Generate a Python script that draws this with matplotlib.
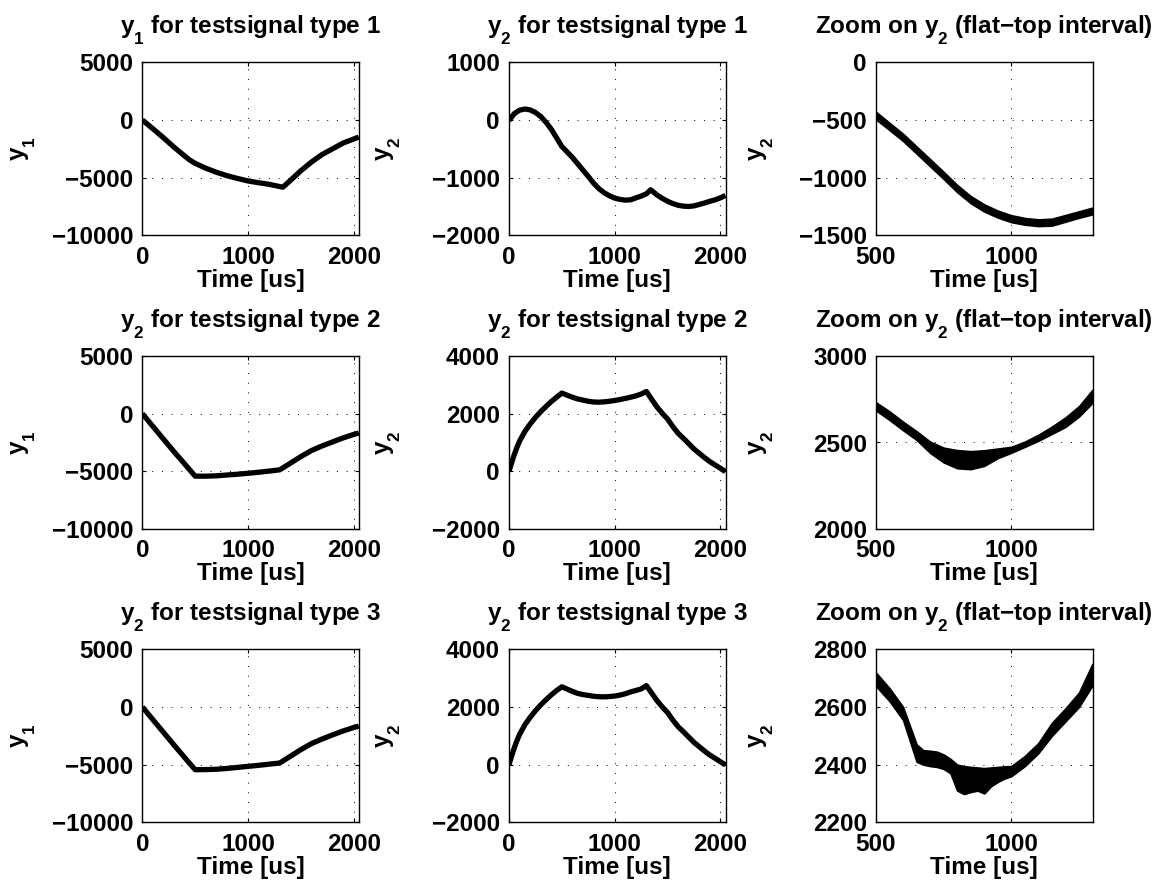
import matplotlib
matplotlib.use("Agg")
import matplotlib.pyplot as plt
import matplotlib._mathtext as mathtext_internal

plt.rcParams['font.family'] = ['Liberation Sans', 'DejaVu Sans']
plt.rcParams['font.weight'] = 'bold'
plt.rcParams['axes.titleweight'] = 'bold'
plt.rcParams['axes.labelweight'] = 'bold'
plt.rcParams['mathtext.fontset'] = 'custom'
plt.rcParams['mathtext.rm'] = 'Liberation Sans:bold'
plt.rcParams['mathtext.it'] = 'Liberation Sans:bold'
plt.rcParams['mathtext.bf'] = 'Liberation Sans:bold'
plt.rcParams['mathtext.default'] = 'bf'
# drop subscripts lower, the way the classic plotting style sets them
mathtext_internal.FontConstantsBase.sub1 = 0.9

# ---- full-range time axes ----
t_full = [0, 100, 200, 300, 400, 500, 600, 700, 800, 900, 1000, 1100, 1200,
          1300, 1400, 1500, 1600, 1700, 1800, 1900, 2000, 2048]
t_fine = [0, 25, 50, 75, 100, 150, 200, 250, 300, 350, 400, 450, 500, 550,
          600, 650, 700, 750, 800, 850, 900, 950, 1000, 1050, 1100, 1150,
          1200, 1250, 1300, 1350, 1400, 1450, 1500, 1550, 1600, 1650, 1700,
          1750, 1800, 1850, 1900, 1950, 2000, 2048]

# testsignal type 1
t_y1_sig1 = [0, 100, 200, 300, 400, 450, 500, 600, 700, 800, 900, 1000, 1100,
             1200, 1330, 1400, 1500, 1600, 1700, 1800, 1900, 2000, 2048]
y1_sig1 = [0, -760, -1540, -2360, -3120, -3480, -3760, -4180, -4530, -4830,
           -5070, -5290, -5440, -5580, -5830, -5250, -4400, -3650, -3000,
           -2500, -2000, -1650, -1480]
t_y2_sig1 = [0, 50, 100, 150, 200, 250, 300, 350, 400, 450, 500, 550, 600, 650,
             700, 750, 800, 850, 900, 950, 1000, 1050, 1100, 1150, 1200, 1250,
             1300, 1340, 1400, 1450, 1500, 1550, 1600, 1650, 1700, 1750, 1800,
             1850, 1900, 1950, 2000, 2048]
y2_sig1 = [-10, 110, 170, 190, 175, 130, 60, -40, -160, -310, -460, -555,
           -650, -760, -870, -980, -1095, -1190, -1262, -1315, -1355, -1378,
           -1390, -1385, -1352, -1320, -1280, -1210, -1300, -1360, -1410,
           -1450, -1480, -1495, -1500, -1490, -1465, -1440, -1410, -1385,
           -1350, -1310]

# testsignal type 2
y1_sig2 = [0, -1100, -2200, -3300, -4350, -5420, -5420, -5390, -5320, -5250,
           -5170, -5080, -4980, -4870, -4300, -3720, -3200, -2800, -2450,
           -2100, -1800, -1680]
y2_sig2 = [0, 300, 580, 830, 1050, 1380, 1640, 1870, 2070, 2250, 2420, 2570,
           2715, 2640, 2570, 2510, 2470, 2430, 2405, 2398, 2410, 2430, 2458,
           2490, 2528, 2570, 2618, 2680, 2770, 2497, 2231, 2010, 1815, 1550,
           1318, 1145, 960, 775, 624, 474, 335, 220, 104, -12]

# testsignal type 3
y1_sig3 = [0, -1100, -2200, -3300, -4380, -5440, -5430, -5400, -5330, -5240,
           -5150, -5060, -4960, -4860, -4280, -3700, -3180, -2780, -2420,
           -2080, -1780, -1660]
y2_sig3 = [0, 300, 580, 830, 1050, 1380, 1640, 1870, 2070, 2250, 2420, 2570,
           2700, 2620, 2540, 2470, 2430, 2400, 2370, 2355, 2350, 2362, 2378,
           2412, 2458, 2522, 2572, 2625, 2740, 2480, 2220, 2000, 1805, 1545,
           1315, 1140, 955, 772, 620, 470, 332, 218, 100, -12]

# ---- flat-top interval (zoomed) envelopes of y2 ----
t_zoom1 = [500, 550, 600, 650, 700, 750, 800, 850, 900, 950, 1000, 1050, 1100,
           1150, 1200, 1250, 1300]
y2_zoom1_hi = [-430, -525, -620, -730, -840, -950, -1064, -1160, -1232, -1286,
               -1326, -1350, -1362, -1356, -1324, -1292, -1260]
y2_zoom1_lo = [-495, -588, -682, -792, -902, -1012, -1126, -1222, -1294,
               -1346, -1386, -1408, -1420, -1416, -1382, -1348, -1318]

t_zoom2 = [500, 550, 600, 650, 700, 750, 800, 850, 900, 950, 1000, 1050, 1100,
           1150, 1200, 1250, 1300]
y2_zoom2_hi = [2732, 2680, 2620, 2565, 2505, 2470, 2456, 2450, 2455, 2465,
               2475, 2505, 2545, 2592, 2645, 2710, 2805]
y2_zoom2_lo = [2685, 2630, 2571, 2515, 2440, 2385, 2351, 2346, 2365, 2410,
               2441, 2475, 2510, 2550, 2590, 2650, 2730]

t_zoom3 = [500, 550, 600, 650, 675, 700, 725, 750, 775, 800, 825, 850, 875,
           900, 925, 950, 975, 1000, 1050, 1100, 1150, 1200, 1250, 1300]
y2_zoom3_hi = [2719, 2665, 2600, 2470, 2450, 2448, 2445, 2435, 2420, 2400,
               2395, 2392, 2390, 2388, 2390, 2392, 2394, 2395, 2430, 2475,
               2545, 2595, 2650, 2750]
y2_zoom3_lo = [2672, 2620, 2555, 2410, 2400, 2395, 2392, 2385, 2370, 2310,
               2298, 2305, 2310, 2300, 2325, 2340, 2352, 2360, 2395, 2440,
               2500, 2550, 2600, 2675]

titles = [
    ["y$_1$ for testsignal type 1", "y$_2$ for testsignal type 1",
     "Zoom on y$_2$ (flat\u2212top interval)"],
    ["y$_2$ for testsignal type 2", "y$_2$ for testsignal type 2",
     "Zoom on y$_2$ (flat\u2212top interval)"],
    ["y$_2$ for testsignal type 3", "y$_2$ for testsignal type 3",
     "Zoom on y$_2$ (flat\u2212top interval)"],
]
ylabels = ["y$_1$", "y$_2$", "y$_2$"]

yticks = [
    [[-10000, -5000, 0, 5000], [-2000, -1000, 0, 1000], [-1500, -1000, -500, 0]],
    [[-10000, -5000, 0, 5000], [-2000, 0, 2000, 4000], [2000, 2500, 3000]],
    [[-10000, -5000, 0, 5000], [-2000, 0, 2000, 4000], [2200, 2400, 2600, 2800]],
]
xticks_full = [0, 1000, 2000]
xticks_zoom = [500, 1000]

fig = plt.figure(figsize=(11.68, 8.88), dpi=100)

col_left = [142.3, 509.0, 876.0]
row_top = [62.3, 356.0, 649.3]
ax_w, ax_h = 216.5, 173.0
W, H = 1168.0, 888.0

full_series = [
    [(t_y1_sig1, y1_sig1), (t_y2_sig1, y2_sig1)],
    [(t_full, y1_sig2), (t_fine, y2_sig2)],
    [(t_full, y1_sig3), (t_fine, y2_sig3)],
]
zoom_series = [
    (t_zoom1, y2_zoom1_hi, y2_zoom1_lo),
    (t_zoom2, y2_zoom2_hi, y2_zoom2_lo),
    (t_zoom3, y2_zoom3_hi, y2_zoom3_lo),
]

label_x = [-0.48, -0.49, -0.46]
FS = 17.5

for r in range(3):
    for c in range(3):
        rect = [col_left[c] / W, 1 - (row_top[r] + ax_h) / H, ax_w / W, ax_h / H]
        ax = fig.add_axes(rect)
        if c < 2:
            t, y = full_series[r][c]
            ax.plot(t, y, color='k', linewidth=3.8, solid_capstyle='butt',
                    solid_joinstyle='round')
            ax.set_xlim(0, 2048)
            ax.set_xticks(xticks_full)
        else:
            t, hi, lo = zoom_series[r]
            ax.fill_between(t, lo, hi, color='k', linewidth=1.2, edgecolor='k')
            ax.set_xlim(500, 1300)
            ax.set_xticks(xticks_zoom)
        yt = yticks[r][c]
        ax.set_yticks(yt)
        ax.set_ylim(yt[0], yt[-1])
        ax.grid(True, color='k', linestyle=(0, (1, 9)), linewidth=0.7)
        ax.set_axisbelow(True)
        ax.tick_params(direction='in', length=3, width=0.8, top=True,
                       right=True, labelsize=FS)
        ax.tick_params(axis='x', pad=7.5)
        ax.tick_params(axis='y', pad=6.5)
        for s in ax.spines.values():
            s.set_linewidth(1.0)
        ax.set_title(titles[r][c], fontsize=FS, pad=21)
        ax.set_xlabel("Time [us]", fontsize=FS, labelpad=0)
        ax.set_ylabel(ylabels[c], fontsize=FS)
        ax.yaxis.set_label_coords(label_x[c], 0.5)

fig.savefig("out.png", dpi=100)
